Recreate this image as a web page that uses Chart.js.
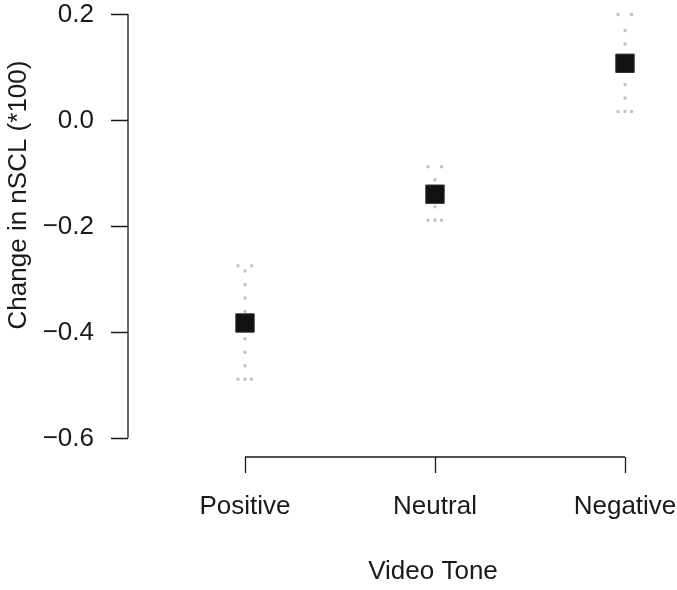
<!DOCTYPE html>
<html>
<head>
<meta charset="utf-8">
<script src="https://cdn.jsdelivr.net/npm/chart.js@4/dist/chart.umd.min.js"></script>
<style>
  body { margin: 0; background: #fff; }
  canvas { display: block; }
</style>
</head>
<body>
<canvas id="myChart" width="677" height="590"></canvas>
<script>
// data
const tones = ["Positive", "Neutral", "Negative"];
const means = [-0.383, -0.14, 0.107];
const lower = [-0.489, -0.189, 0.016];
const upper = [-0.275, -0.088, 0.199];
const yTicks = [-0.6, -0.4, -0.2, 0.0, 0.2];

const FONT = "26px 'Liberation Sans', Arial, Helvetica, sans-serif";
const INK = "#1a1a1a";

// R style axes (offset from the plot region, line only spans the ticks)
const rAxes = {
  id: "rAxes",
  beforeDatasetsDraw(chart) {
    // dotted error bars under the squares
    const { ctx, scales: { x, y } } = chart;
    ctx.save();
    ctx.strokeStyle = "#c2c2c2";
    ctx.lineWidth = 3.5;
    ctx.lineCap = "round";
    ctx.setLineDash([0.01, 13.5]);
    tones.forEach((t, i) => {
      const px = x.getPixelForValue(i);
      const top = y.getPixelForValue(upper[i]);
      const bot = y.getPixelForValue(lower[i]);
      ctx.beginPath();
      ctx.moveTo(px, bot);
      ctx.lineTo(px, top + 3);
      ctx.stroke();
      [top, bot].forEach((cy) => {
        ctx.beginPath();
        ctx.moveTo(px - 7, cy);
        ctx.lineTo(px + 7, cy);
        ctx.stroke();
      });
    });
    ctx.restore();
  },
  afterDraw(chart) {
    const { ctx, scales: { x, y } } = chart;
    const axisX = 128;
    const axisY = 457;
    ctx.save();
    ctx.strokeStyle = INK;
    ctx.lineWidth = 1.3;
    ctx.fillStyle = INK;
    ctx.font = FONT;

    // y axis
    const yTop = y.getPixelForValue(yTicks[yTicks.length - 1]);
    const yBot = y.getPixelForValue(yTicks[0]);
    ctx.beginPath();
    ctx.moveTo(axisX, yTop);
    ctx.lineTo(axisX, yBot);
    yTicks.forEach((v) => {
      const py = Math.round(y.getPixelForValue(v)) + 0.5;
      ctx.moveTo(axisX, py);
      ctx.lineTo(axisX - 17, py);
    });
    ctx.stroke();
    ctx.textAlign = "right";
    ctx.textBaseline = "middle";
    yTicks.forEach((v) => {
      const lbl = (v < 0 ? "\u2212" : "") + Math.abs(v).toFixed(1);
      ctx.fillText(lbl, 94, y.getPixelForValue(v) + 1);
    });

    // x axis
    const xL = x.getPixelForValue(0);
    const xR = x.getPixelForValue(tones.length - 1);
    ctx.beginPath();
    ctx.moveTo(xL, axisY);
    ctx.lineTo(xR, axisY);
    tones.forEach((t, i) => {
      const px = Math.round(x.getPixelForValue(i)) + 0.5;
      ctx.moveTo(px, axisY);
      ctx.lineTo(px, axisY + 16);
    });
    ctx.stroke();
    ctx.textAlign = "center";
    ctx.textBaseline = "alphabetic";
    tones.forEach((t, i) => {
      ctx.fillText(t, x.getPixelForValue(i), 514);
    });

    // titles
    ctx.fillText("Video Tone", 433, 579);
    ctx.translate(26, 195);
    ctx.rotate(-Math.PI / 2);
    ctx.fillText("Change in nSCL (*100)", 0, 0);
    ctx.restore();
  }
};

const data = {
  datasets: [
    {
      label: "Mean change",
      data: means.map((m, i) => ({ x: i, y: m })),
      pointStyle: "rect",
      pointRadius: 13,
      backgroundColor: "#111111",
      borderColor: "#333333",
      borderWidth: 1,
      showLine: false,
      clip: false
    }
  ]
};

const config = {
  type: "scatter",
  data,
  options: {
    responsive: false,
    animation: false,
    layout: { padding: { left: 245, right: 52, top: 14, bottom: 152 } },
    plugins: { legend: { display: false }, tooltip: { enabled: false } },
    scales: {
      x: { type: "linear", min: 0, max: 2, display: false },
      y: { type: "linear", min: -0.6, max: 0.2, display: false }
    }
  },
  plugins: [rAxes]
};

const myChart = new Chart(document.getElementById("myChart"), config);
</script>
</body>
</html>
